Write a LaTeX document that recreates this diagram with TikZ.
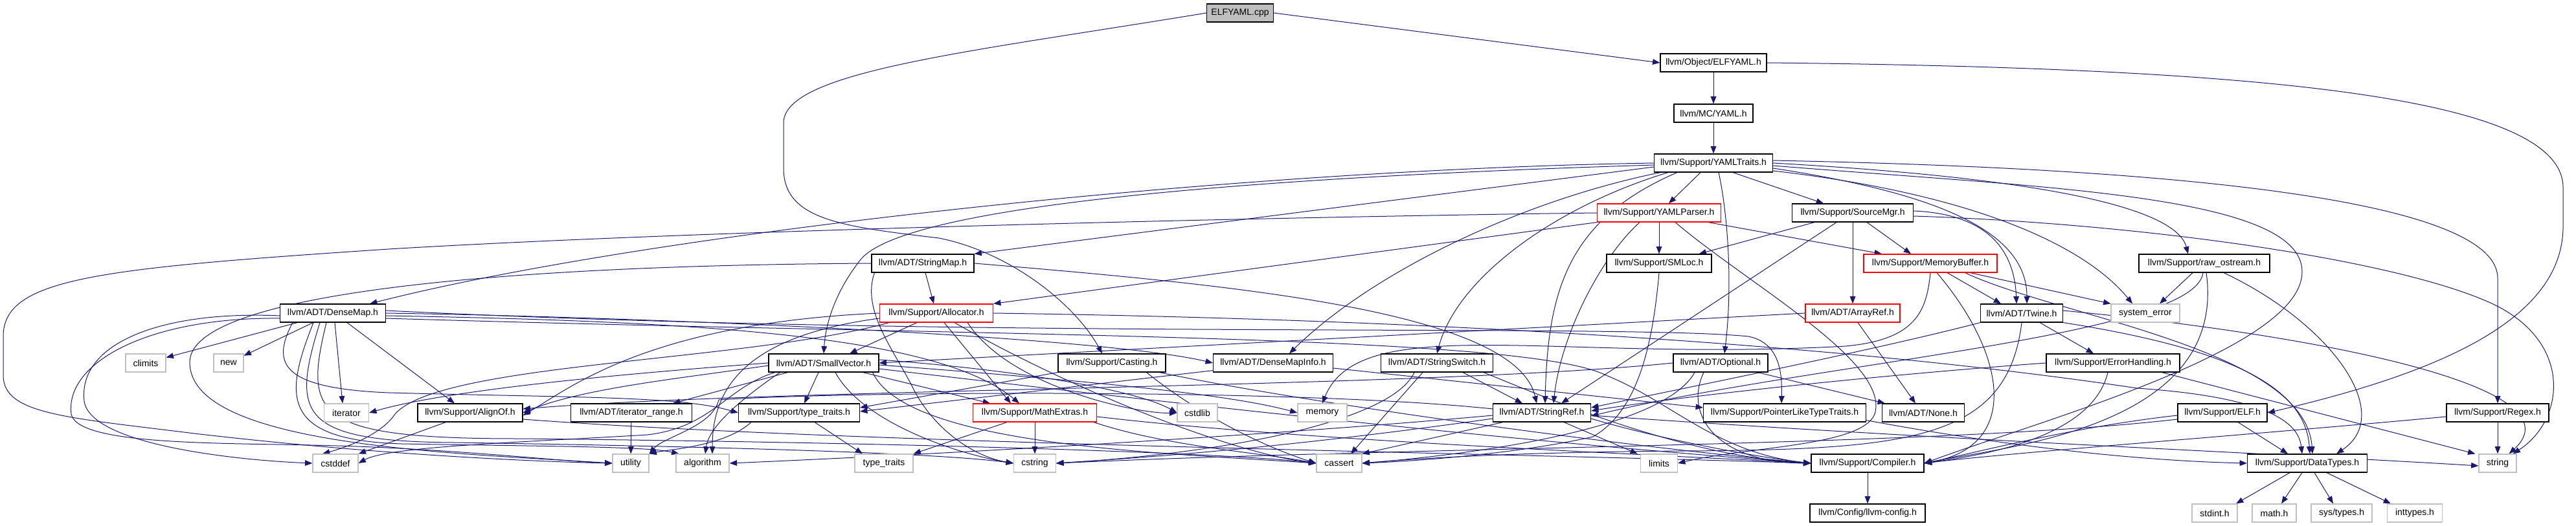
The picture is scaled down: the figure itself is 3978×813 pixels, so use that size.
\documentclass[tikz,border=0pt]{standalone}
\usepackage{fontspec}
\setmainfont{Liberation Sans}
\usetikzlibrary{arrows.meta,calc,backgrounds}
\definecolor{edgec}{HTML}{191970}
\definecolor{sysgray}{HTML}{BFBFBF}
\begin{document}
\begin{tikzpicture}[x=0.75pt,y=-0.75pt,
  nd/.style={draw, line width=0.9pt, fill=white, minimum height=21pt, inner xsep=1pt, inner ysep=0pt, font=\fontsize{10.5}{12}\selectfont, text=black},
  box/.style={nd, draw=black},
  rbox/.style={nd, draw=red},
  sys/.style={nd, draw=sysgray},
  root/.style={nd, draw=black, fill=sysgray},
  bw/.style={minimum width=#1*0.75pt},
  edg/.style={draw=edgec, line width=0.75pt, -{Triangle[length=8.5pt,width=6.5pt]}}]
\useasboundingbox (0,0) rectangle (3978,813);
% nodes
\node[root, bw=103] (cpp) at (1915,20) {ELFYAML.cpp};
\node[box, bw=164] (elfyamlh) at (2646,97) {llvm/Object/ELFYAML.h};
\node[box, bw=122] (mcyaml) at (2646,175) {llvm/MC/YAML.h};
\node[box, bw=183] (traits) at (2646,252) {llvm/Support/YAMLTraits.h};
\node[rbox, bw=191] (parser) at (2562,329) {llvm/Support/YAMLParser.h};
\node[box, bw=187] (srcmgr) at (2861,329) {llvm/Support/SourceMgr.h};
\node[box, bw=158] (stringmap) at (1425,407) {llvm/ADT/StringMap.h};
\node[box, bw=162] (smloc) at (2562,407) {llvm/Support/SMLoc.h};
\node[rbox, bw=206] (membuf) at (2981,407) {llvm/Support/MemoryBuffer.h};
\node[box, bw=202] (rawos) at (3404,407) {llvm/Support/raw\_ostream.h};
\node[box, bw=163] (densemap) at (514,484) {llvm/ADT/DenseMap.h};
\node[rbox, bw=175] (alloc) at (1446,484) {llvm/Support/Allocator.h};
\node[rbox, bw=146] (arrayref) at (2861,484) {llvm/ADT/ArrayRef.h};
\node[box, bw=127] (twine) at (3122,484) {llvm/ADT/Twine.h};
\node[sys, bw=106] (syserr) at (3313,484) {system\_error};
\node[sys, bw=62] (climits) at (225,561) {climits};
\node[sys, bw=46] (new) at (353,561) {new};
\node[box, bw=170] (smallvec) at (1272,561) {llvm/ADT/SmallVector.h};
\node[box, bw=166] (casting) at (1717,561) {llvm/Support/Casting.h};
\node[box, bw=185] (dmi) at (1966,561) {llvm/ADT/DenseMapInfo.h};
\node[box, bw=173] (sswitch) at (2219,561) {llvm/ADT/StringSwitch.h};
\node[box, bw=146] (optional) at (2657,561) {llvm/ADT/Optional.h};
\node[box, bw=206] (errh) at (3263,561) {llvm/Support/ErrorHandling.h};
\node[sys, bw=69] (iterator) at (535,638) {iterator};
\node[box, bw=162] (alignof) at (726,638) {llvm/Support/AlignOf.h};
\node[box, bw=187] (itrange) at (975,638) {llvm/ADT/iterator\_range.h};
\node[box, bw=187] (typetraitsh) at (1234,638) {llvm/Support/type\_traits.h};
\node[rbox, bw=191] (mathext) at (1598,638) {llvm/Support/MathExtras.h};
\node[sys, bw=62] (cstdlib) at (1849,638) {cstdlib};
\node[sys, bw=76] (memory) at (2042,638) {memory};
\node[box, bw=151] (stringref) at (2381,638) {llvm/ADT/StringRef.h};
\node[box, bw=251] (plt) at (2756,638) {llvm/Support/PointerLikeTypeTraits.h};
\node[box, bw=127] (none) at (2970,638) {llvm/ADT/None.h};
\node[box, bw=138] (elf) at (3432,638) {llvm/Support/ELF.h};
\node[box, bw=158] (regex) at (3857,638) {llvm/Support/Regex.h};
\node[sys, bw=70] (cstddef) at (518,716) {cstddef};
\node[sys, bw=56] (utility) at (974,716) {utility};
\node[sys, bw=82] (algorithm) at (1085,716) {algorithm};
\node[sys, bw=90] (typetraits) at (1365,716) {type\_traits};
\node[sys, bw=65] (cstring) at (1598,716) {cstring};
\node[sys, bw=70] (cassert) at (2068,716) {cassert};
\node[sys, bw=57] (limits) at (2562,716) {limits};
\node[box, bw=174] (compiler) at (2884,716) {llvm/Support/Compiler.h};
\node[box, bw=185] (datatypes) at (3563,716) {llvm/Support/DataTypes.h};
\node[sys, bw=58] (string) at (3857,716) {string};
\node[box, bw=178] (llvmconfig) at (2884,793) {llvm/Config/llvm-config.h};
\node[sys, bw=70] (stdint) at (3420,793) {stdint.h};
\node[sys, bw=68] (math) at (3512,793) {math.h};
\node[sys, bw=94] (systypes) at (3616,793) {sys/types.h};
\node[sys, bw=85] (inttypes) at (3729,793) {inttypes.h};
\begin{scope}[on background layer]
\fill[white] (0,0) rectangle (3978,813);
% top
\draw[edg] (cpp.east) -- (elfyamlh.west);
\draw[edg] (cpp.west) .. controls (1500,80) and (1210,110) .. (1210,190) -- (1210,260) .. controls (1210,340) and (1300,350) .. (1450,368) .. controls (1560,390) and (1660,470) .. ($(casting.north)+(-15,0)$);
\draw[edg] (elfyamlh) -- (mcyaml);
\draw[edg] (elfyamlh.east) .. controls (3500,105) and (3958,150) .. (3958,290) -- (3958,350) .. controls (3958,500) and (3750,580) .. (elf.east);
\draw[edg] (mcyaml) -- (traits);
% traits
\draw[edg] (traits.west) .. controls (1900,262) and (1000,360) .. ($(densemap.north east)+(-25,0)$);
\draw[edg] ($(traits.west)+(0,3)$) .. controls (1900,275) and (1400,320) .. (1330,400) .. controls (1290,450) and (1275,500) .. (smallvec.north);
\draw[edg] ($(traits.west)+(0,6)$) -- (stringmap.north east);
\draw[edg] ($(traits.south west)+(10,0)$) .. controls (2350,310) and (2120,420) .. ($(dmi.north)+(25,0)$);
\draw[edg] ($(traits.south west)+(22,0)$) .. controls (2400,320) and (2250,430) .. (sswitch.north);
\draw[edg] ($(traits.south west)+(36,0)$) .. controls (2420,340) and (2390,450) .. ($(stringref.north)+(5,0)$);
\draw[edg] ($(traits.south)+(-20,0)$) -- ($(parser.north)+(15,0)$);
\draw[edg] ($(traits.south)+(8,0)$) .. controls (2668,330) and (2676,440) .. ($(optional.north)+(6,0)$);
\draw[edg] ($(traits.south)+(30,0)$) -- ($(srcmgr.north)+(-45,0)$);
\draw[edg] ($(traits.east)+(0,-4)$) .. controls (3450,262) and (3857,320) .. (3857,430) -- (regex.north);
\draw[edg] ($(traits.east)+(0,4)$) .. controls (3150,290) and (3555,300) .. (3555,420) .. controls (3555,540) and (3150,650) .. (compiler.east);
\draw[edg] (traits.east) .. controls (3150,275) and (3360,320) .. ($(rawos.north)+(-25,0)$);
\draw[edg] ($(traits.east)+(0,8)$) .. controls (3000,300) and (3130,360) .. ($(twine.north)+(8,0)$);
\draw[edg] ($(traits.east)+(0,12)$) .. controls (3050,300) and (3220,380) .. ($(syserr.north)+(-20,0)$);
% parser
\draw[edg] (parser.west) .. controls (2000,335) and (1100,355) .. (600,385) .. controls (150,415) and (5,430) .. (5,520) -- (5,580) .. controls (5,640) and (100,645) .. (300,670) .. controls (600,705) and (850,714) .. (utility.west);
\draw[edg] (parser.south west) -- (alloc.north east);
\draw[edg] ($(parser.south)+(-30,0)$) .. controls (2470,400) and (2410,520) .. ($(stringref.north)+(18,0)$);
\draw[edg] (parser) -- (smloc);
\draw[edg] ($(parser.south east)+(-20,0)$) -- ($(membuf.north)+(-75,0)$);
\draw[edg] ($(parser.south)+(25,0)$) .. controls (2700,440) and (2920,560) .. (2895,640) .. controls (2875,690) and (2700,690) .. (limits.east);
% srcmgr
\draw[edg] ($(srcmgr.south west)+(35,0)$) -- ($(smloc.north east)+(-20,0)$);
\draw[edg] ($(srcmgr.south)+(-25,0)$) -- ($(stringref.north)+(30,0)$);
\draw[edg] (srcmgr) -- (arrayref);
\draw[edg] ($(srcmgr.south)+(22,0)$) -- ($(membuf.north)+(-30,0)$);
\draw[edg] ($(srcmgr.east)+(0,-3)$) .. controls (3050,330) and (3110,370) .. ($(twine.north)+(-8,0)$);
\draw[edg] ($(srcmgr.east)+(0,5)$) .. controls (3300,345) and (3700,400) .. (3850,470) .. controls (3975,530) and (3960,650) .. ($(string.north east)+(-6,0)$);
% stringmap
\draw[edg] (stringmap) -- (alloc);
\draw[edg] (stringmap.east) .. controls (1900,440) and (2340,480) .. ($(stringref.north)+(-8,0)$);
\draw[edg] ($(stringmap.south west)+(5,0)$) .. controls (1330,480) and (1380,540) .. (1410,600) .. controls (1440,660) and (1500,705) .. (cstring.west);
\draw[edg] (stringmap.west) .. controls (800,410) and (293,450) .. (293,560) .. controls (293,690) and (700,700) .. (utility.west);
% densemap
\draw[edg] (densemap) -- (climits);
\draw[edg] (densemap) -- (new);
\draw[edg] ($(densemap.south)+(3,0)$) -- ($(iterator.north)+(-6,0)$);
\draw[edg] ($(densemap.south)+(22,0)$) -- ($(alignof.north)+(-24,0)$);
\draw[edg] ($(densemap.west)+(0,4)$) .. controls (250,480) and (120,530) .. (130,620) .. controls (140,690) and (380,712) .. (cstddef.west);
\draw[edg] ($(densemap.west)+(0,8)$) .. controls (230,490) and (100,560) .. (110,640) .. controls (120,690) and (350,684) .. (520,689) .. controls (700,694) and (880,714) .. (utility.west);
\draw[edg] ($(densemap.south west)+(20,0)$) .. controls (420,560) and (430,600) .. (600,607) .. controls (900,615) and (1050,612) .. (typetraitsh.west);
\draw[edg] ($(densemap.south)+(-30,0)$) .. controls (440,610) and (430,680) .. (620,686) .. controls (850,690) and (1000,690) .. ($(algorithm.north west)+(5,0)$);
\draw[edg] ($(densemap.south)+(-20,0)$) .. controls (450,640) and (460,682) .. (700,684) .. controls (1100,690) and (1450,700) .. (cstring.west);
\draw[edg] ($(densemap.south)+(-10,0)$) .. controls (470,640) and (480,678) .. (800,678) .. controls (1400,684) and (1900,700) .. (cassert.west);
\draw[edg] (densemap.east) .. controls (1000,490) and (1700,520) .. (dmi.west);
\draw[edg] ($(densemap.east)+(0,4)$) .. controls (1100,497) and (1450,520) .. ($(mathext.north)+(-24,0)$);
\draw[edg] ($(densemap.east)+(0,-4)$) .. controls (1500,525) and (2500,500) .. (2700,520) .. controls (2750,530) and (2752,580) .. ($(plt.north)+(-5,0)$);
\draw[edg] ($(densemap.east)+(0,8)$) .. controls (1500,520) and (2350,515) .. (2480,580) .. controls (2580,620) and (2650,700) .. (compiler.west);
% alloc
\draw[edg] ($(alloc.south)+(-30,0)$) -- ($(smallvec.north)+(40,0)$);
\draw[edg] ($(alloc.south)+(12,0)$) -- ($(mathext.north)+(-37,0)$);
\draw[edg] (alloc.west) .. controls (1000,500) and (880,600) .. ($(alignof.east)+(0,4)$);
\draw[edg] ($(alloc.west)+(0,8)$) .. controls (1150,520) and (1100,600) .. ($(algorithm.north)+(15,0)$);
\draw[edg] ($(alloc.south west)+(15,0)$) .. controls (1150,560) and (680,560) .. (610,640) .. controls (590,670) and (540,690) .. ($(cstddef.north)+(-20,0)$);
\draw[edg] ($(alloc.south east)+(-60,0)$) .. controls (1650,600) and (1900,700) .. (cassert.west);
\draw[edg] ($(alloc.south east)+(-40,0)$) .. controls (1560,600) and (1760,640) .. (cstdlib.west);
\draw[edg] (alloc.east) .. controls (2300,495) and (2900,540) .. (3300,600) .. controls (3520,615) and (3550,660) .. ($(datatypes.north)+(-8,0)$);
% arrayref
\draw[edg] ($(arrayref.south)+(8,0)$) -- ($(none.north)+(-12,0)$);
\draw[edg] (arrayref.west) -- (smallvec.east);
% twine
\draw[edg] (twine.south west) .. controls (2900,540) and (2600,600) .. ($(stringref.east)+(0,-8)$);
\draw[edg] ($(twine.south)+(28,0)$) -- ($(errh.north)+(-30,0)$);
\draw[edg] (twine.south) .. controls (3100,680) and (2950,695) .. (2600,697) .. controls (2300,699) and (2150,712) .. (cassert.east);
\draw[edg] (twine.south east) .. controls (3450,540) and (3560,600) .. ($(datatypes.north)+(4,0)$);
\draw[edg] ($(twine.east)+(0,-4)$) .. controls (3600,520) and (3985,600) .. ($(string.north east)+(-12,0)$);
% errh
\draw[edg] (errh.west) .. controls (2900,580) and (2600,612) .. ($(stringref.east)+(0,-3)$);
\draw[edg] ($(errh.south)+(-8,0)$) .. controls (3230,680) and (3050,705) .. (compiler.east);
\draw[edg] ($(errh.south east)+(-28,0)$) -- ($(string.north west)+(-5,0)$);
% rawos
\draw[edg] ($(rawos.south)+(-18,0)$) -- ($(syserr.north)+(22,0)$);
\draw[edg] ($(rawos.south)+(-2,0)$) .. controls (3390,520) and (2800,560) .. ($(stringref.east)+(0,5)$);
\draw[edg] ($(rawos.south)+(3,0)$) .. controls (3440,660) and (3100,690) .. (compiler.east);
\draw[edg] ($(rawos.south)+(30,0)$) .. controls (3600,500) and (3700,640) .. ($(datatypes.north)+(45,0)$);
% membuf
\draw[edg] ($(membuf.south)+(26,0)$) -- ($(twine.north)+(-32,0)$);
\draw[edg] ($(membuf.south east)+(-42,0)$) -- (syserr.north west);
\draw[edg] ($(membuf.south east)+(-50,0)$) .. controls (3180,490) and (3560,540) .. ($(datatypes.north)+(8,0)$);
\draw[edg] ($(membuf.south)+(10,0)$) .. controls (3100,550) and (3120,690) .. (compiler.east);
\draw[edg] (membuf.south) .. controls (2975,480) and (2960,525) .. (2850,535) .. controls (2400,560) and (2100,480) .. (memory.north);
% smallvec
\draw[edg] ($(smallvec.south west)+(30,0)$) -- ($(itrange.north east)+(-30,0)$);
\draw[edg] ($(smallvec.south)+(-8,0)$) -- ($(typetraitsh.north)+(8,0)$);
\draw[edg] ($(smallvec.south west)+(18,0)$) .. controls (1140,620) and (1095,660) .. ($(algorithm.north)+(4,0)$);
\draw[edg] ($(smallvec.south east)+(-25,0)$) -- ($(mathext.north)+(-69,0)$);
\draw[edg] ($(smallvec.south)+(18,0)$) .. controls (1330,650) and (1470,700) .. (cstring.west);
\draw[edg] ($(smallvec.east)+(0,-5)$) .. controls (1550,570) and (1750,600) .. (cstdlib.west);
\draw[edg] ($(smallvec.east)+(0,3)$) .. controls (1700,590) and (1900,610) .. (memory.west);
\draw[edg] ($(smallvec.south east)+(-10,0)$) .. controls (1400,690) and (1800,700) .. (cassert.west);
\draw[edg] ($(smallvec.east)+(0,9)$) .. controls (1700,610) and (2300,680) .. (compiler.west);
\draw[edg] (smallvec.west) .. controls (1000,575) and (700,600) .. (iterator.east);
\draw[edg] ($(smallvec.west)+(0,4)$) .. controls (1050,585) and (900,600) .. (alignof.east);
\draw[edg] ($(smallvec.south west)+(10,0)$) .. controls (1120,600) and (1100,660) .. (1000,672) .. controls (800,684) and (600,690) .. (cstddef.east);
% casting
\draw[edg] (casting.south west) -- ($(typetraitsh.east)+(0,-8)$);
\draw[edg] ($(casting.south east)+(-10,0)$) .. controls (2000,620) and (2500,690) .. (compiler.west);
\draw[edg] ($(casting.south east)+(-30,0)$) .. controls (1850,640) and (1950,690) .. (cassert.west);
% dmi
\draw[edg] ($(dmi.south west)+(0,-3)$) -- ($(typetraitsh.east)+(0,-2)$);
\draw[edg] ($(dmi.east)+(0,8)$) -- ($(plt.west)+(0,-8)$);
% sswitch
\draw[edg] ($(sswitch.south)+(40,0)$) -- ($(stringref.north)+(-30,0)$);
\draw[edg] ($(sswitch.south)+(-22,0)$) -- ($(cassert.north)+(18,0)$);
\draw[edg] ($(sswitch.south)+(-35,0)$) .. controls (2150,650) and (1900,700) .. (cstring.east);
\draw[edg] ($(sswitch.south east)+(-15,0)$) .. controls (2400,620) and (2600,705) .. (compiler.west);
% optional
\draw[edg] ($(optional.south east)+(-16,0)$) -- ($(none.north west)+(5,0)$);
\draw[edg] (optional.west) .. controls (2200,600) and (1200,600) .. ($(alignof.east)+(0,-6)$);
\draw[edg] ($(optional.south)+(-26,0)$) .. controls (2600,640) and (2650,715) .. (compiler.west);
\draw[edg] ($(optional.south)+(-40,0)$) .. controls (2570,660) and (2300,700) .. (cassert.east);
% elf
\draw[edg] ($(elf.west)+(0,4)$) .. controls (3200,660) and (3050,700) .. (compiler.east);
\draw[edg] ($(elf.west)+(0,10)$) .. controls (3000,690) and (2200,690) .. (cstring.east);
\draw[edg] ($(elf.south)+(24,0)$) -- ($(datatypes.north)+(-30,0)$);
% small ones
\draw[edg] (itrange) -- (utility);
\draw[edg] ($(typetraitsh.south west)+(20,0)$) .. controls (1120,690) and (1030,695) .. (utility.north east);
\draw[edg] ($(typetraitsh.south)+(24,0)$) -- ($(typetraits.north)+(-33,0)$);
\draw[edg] (mathext) -- (cstring);
\draw[edg] ($(mathext.south)+(-43,0)$) -- (typetraits.north east);
\draw[edg] ($(mathext.east)+(0,6)$) .. controls (2000,680) and (2500,700) .. (compiler.west);
\draw[edg] ($(mathext.south east)+(-5,0)$) .. controls (1800,690) and (1950,700) .. (cassert.west);
\draw[edg] ($(alignof.south west)+(44,0)$) -- (cstddef.north east);
\draw[edg] ($(alignof.east)+(0,10)$) .. controls (1300,685) and (2300,700) .. (compiler.west);
\draw[edg] ($(plt.south east)+(0,-3)$) .. controls (3100,690) and (3300,712) .. (datatypes.west);
% stringref
\draw[edg] ($(stringref.east)+(0,9)$) .. controls (2550,675) and (2700,705) .. (compiler.west);
\draw[edg] ($(stringref.west)+(0,4)$) .. controls (2000,670) and (1500,700) .. (algorithm.east);
\draw[edg] ($(stringref.south west)+(16,0)$) -- (cassert.north east);
\draw[edg] ($(stringref.west)+(0,9)$) .. controls (2000,690) and (1800,705) .. (cstring.east);
\draw[edg] ($(stringref.south east)+(-42,0)$) -- ($(limits.north west)+(-4,0)$);
\draw[edg] ($(stringref.east)+(0,4)$) .. controls (3000,680) and (3500,700) .. ($(string.west)+(0,4)$);
\draw[edg] ($(stringref.west)+(0,-6)$) .. controls (2000,600) and (1300,605) .. (1110,618) .. controls (1100,660) and (1025,675) .. (utility.north east);
% compiler, regex, datatypes, smloc
\draw[edg] (compiler) -- (llvmconfig);
\draw[edg] ($(regex.west)+(0,6)$) .. controls (3500,670) and (3100,700) .. (compiler.east);
\draw[edg] (regex) -- (string);
\draw[edg] ($(datatypes.south)+(-27,0)$) -- ($(stdint.north)+(33,0)$);
\draw[edg] ($(datatypes.south)+(-8,0)$) -- ($(math.north)+(11,0)$);
\draw[edg] ($(datatypes.south)+(11,0)$) -- ($(systypes.north)+(-13,0)$);
\draw[edg] ($(datatypes.south)+(30,0)$) -- ($(inttypes.north)+(-37,0)$);
\draw[edg] (smloc.south) .. controls (2550,560) and (2520,640) .. (2460,675) .. controls (2350,700) and (2200,712) .. (cassert.east);
\end{scope}
\end{tikzpicture}
\end{document}
